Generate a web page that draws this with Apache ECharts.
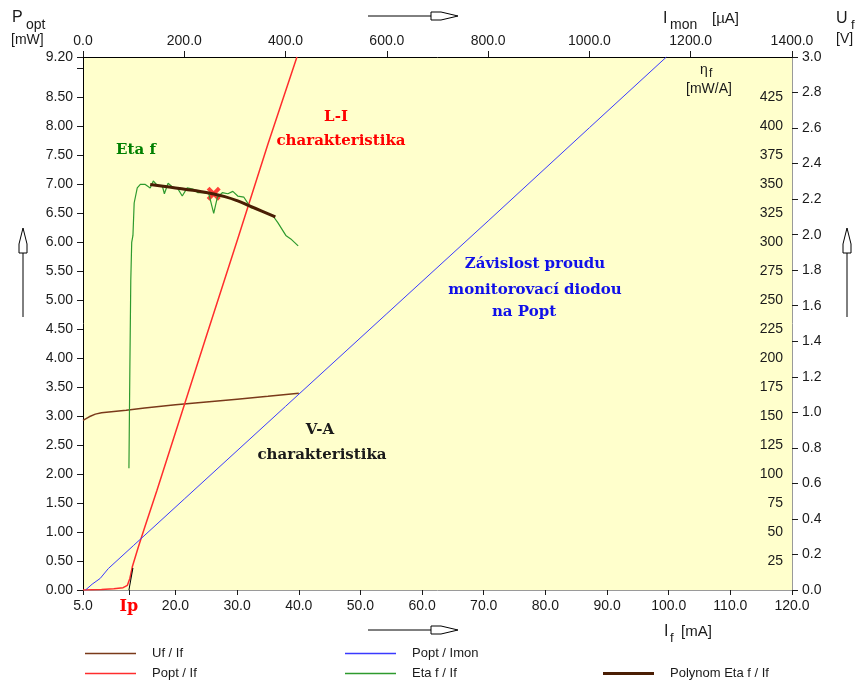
<!DOCTYPE html>
<html>
<head>
<meta charset="utf-8">
<script src="https://cdn.jsdelivr.net/npm/echarts@6.0.0/dist/echarts.min.js"></script>
<style>
html, body { margin: 0; padding: 0; background: #fff; }
#main { width: 857px; height: 681px; }
</style>
</head>
<body>
<div id="main"></div>
<script>
// Uf / If  (V vs mA)
var ifUf = [5, 6, 7, 8, 10, 12, 15, 20, 25, 30, 35, 40];
var uf   = [0.955, 0.975, 0.99, 0.998, 1.005, 1.012, 1.025, 1.042, 1.058, 1.074, 1.09, 1.107];

// Popt / If  (mW vs mA)
var ifPopt = [5, 8, 10, 11.5, 12.2, 12.6, 13.0, 14.0, 15.0, 17.0, 20.0, 25.0, 30.0, 35.0, 39.7];
var popt   = [0, 0.01, 0.02, 0.04, 0.08, 0.2, 0.4, 0.75, 1.08, 1.72, 2.72, 4.38, 6.03, 7.7, 9.2];

// Popt / Imon  (mW vs uA)
var imon    = [5, 18, 34, 50, 100, 200, 400, 600, 800, 1000, 1152];
var poptMon = [0, 0.1, 0.2, 0.37, 0.77, 1.57, 3.17, 4.77, 6.37, 7.98, 9.2];

// Eta f / If  (mW/A vs mA)
var ifEta = [12.45, 12.5, 12.6, 12.75, 12.9, 13.1, 13.3, 13.8, 14.3, 15.1, 15.9, 16.4, 17.1, 17.9, 18.2,
             18.8, 19.7, 20.3, 21.1, 21.9, 22.8, 23.6, 24.5, 25.4, 26.2, 26.8, 27.6, 28.5, 29.3, 30.1,
             31.1, 32.2, 33.3, 34.3, 35.8, 36.6, 37.9, 38.7, 39.9];
var eta   = [105, 134, 190, 267, 300, 306, 334, 347, 350, 350, 347, 353, 349, 348, 342,
             351, 347, 347, 340, 347, 346, 343, 343, 342, 325, 339, 343, 342, 344, 340,
             339, 330, 329, 326, 323, 317, 306, 303, 297];

// Polynom Eta f / If
var ifPoly  = [15.9, 18, 20, 22, 24, 26, 28, 30, 32, 34, 36.2];
var etaPoly = [350, 348.5, 347, 345.5, 344, 342, 339.5, 336, 331.5, 327, 322];

// prahovy proud Ip a tecna
var IP = 12.45;
var tangentIf = [12.45, 13.1];
var tangentP  = [0, 0.38];
var markIf = [26.2];
var markEta = [342];

// popisky os
var ifLabels   = [5, IP, 20, 30, 40, 50, 60, 70, 80, 90, 100, 110, 120];
var poptLabels = [0, 0.5, 1, 1.5, 2, 2.5, 3, 3.5, 4, 4.5, 5, 5.5, 6, 6.5, 7, 7.5, 8, 8.5, 9.2];
var poptTicks  = [0, 0.5, 1, 1.5, 2, 2.5, 3, 3.5, 4, 4.5, 5, 5.5, 6, 6.5, 7, 7.5, 8, 8.5, 9, 9.2];
var etaLabels  = [25, 50, 75, 100, 125, 150, 175, 200, 225, 250, 275, 300, 325, 350, 375, 400, 425];
var etaTicks   = [25, 50, 75, 100, 125, 150, 175, 200, 225, 250, 275, 300, 325, 350, 375, 400, 425, 450];

function zip(xs, ys) {
  var out = [];
  for (var i = 0; i < xs.length; i++) out.push([xs[i], ys[i]]);
  return out;
}

var FONT = 'Liberation Sans';
var LBL = { color: '#1a1a1a', fontFamily: FONT, fontSize: 14 };
var SERIF = 'bold 15px "DejaVu Serif"';

function txt(t, x, y, font, color, align) {
  return { type: 'text', x: x, y: y, silent: true,
    style: { text: t, font: font, fill: color || '#1a1a1a', align: align || 'left', verticalAlign: 'middle' } };
}
function hArrow(y) {
  return [
    { type: 'line', shape: { x1: 368, y1: y, x2: 431, y2: y }, style: { stroke: '#000', lineWidth: 1 } },
    { type: 'polygon', shape: { points: [[431, y - 4], [441, y - 4], [458, y], [441, y + 4], [431, y + 4]] },
      style: { fill: '#fff', stroke: '#000', lineWidth: 1 } }
  ];
}
function vArrow(x) {
  return [
    { type: 'line', shape: { x1: x, y1: 253, x2: x, y2: 317 }, style: { stroke: '#000', lineWidth: 1 } },
    { type: 'polygon', shape: { points: [[x - 4, 253], [x - 4, 244], [x, 228], [x + 4, 244], [x + 4, 253]] },
      style: { fill: '#fff', stroke: '#000', lineWidth: 1 } }
  ];
}

var graphics = [
  txt('P', 12, 18, '16px "Liberation Sans"'),
  txt('opt', 26, 25, '14px "Liberation Sans"'),
  txt('[mW]', 11, 40, '14px "Liberation Sans"'),
  txt('I', 663, 19, '16px "Liberation Sans"'),
  txt('mon', 670, 25, '14px "Liberation Sans"'),
  txt('[\u00b5A]', 712, 19, '15px "Liberation Sans"'),
  txt('U', 836, 19, '16px "Liberation Sans"'),
  txt('f', 851, 25, '13px "Liberation Sans"'),
  txt('[V]', 836, 39, '14px "Liberation Sans"'),
  txt('\u03b7', 700, 70, '14px "Liberation Sans"'),
  txt('f', 709, 74, '12px "Liberation Sans"'),
  txt('[mW/A]', 686, 89, '14px "Liberation Sans"'),
  txt('I', 664, 632, '16px "Liberation Sans"'),
  txt('f', 670, 638, '13px "Liberation Sans"'),
  txt('[mA]', 681, 632, '15px "Liberation Sans"'),
  txt('L-I', 336, 117, SERIF, '#ff0000', 'center'),
  txt('charakteristika', 341, 141, SERIF, '#ff0000', 'center'),
  txt('Eta f', 136, 150, SERIF, '#008000', 'center'),
  txt('Z\u00e1vislost proudu', 535, 264, SERIF, '#1010e8', 'center'),
  txt('monitorovac\u00ed diodou', 535, 290, SERIF, '#1010e8', 'center'),
  txt('na Popt', 524, 312, SERIF, '#1010e8', 'center'),
  txt('V-A', 320, 430, SERIF, '#1a1a1a', 'center'),
  txt('charakteristika', 322, 455, SERIF, '#1a1a1a', 'center')
].concat(hArrow(16), hArrow(630), vArrow(23), vArrow(847));

function legendAt(name, left, top, h) {
  return {
    data: [name], left: left, top: top, orient: 'horizontal', icon: 'rect',
    itemWidth: 51, itemHeight: h, selectedMode: false,
    textStyle: { color: '#1a1a1a', fontFamily: FONT, fontSize: 13, padding: [0, 0, 0, 11] }
  };
}

var myChart = echarts.init(document.getElementById('main'));
var option = {
  animation: false,
  backgroundColor: '#ffffff',
  grid: { left: 83, right: 65, top: 57, bottom: 91, show: true, backgroundColor: '#ffffcc', borderWidth: 0 },
  legend: [
    legendAt('Uf / If', 80, 642, 1.5),
    legendAt('Popt / If', 80, 662, 1.5),
    legendAt('Popt / Imon', 340, 642, 1.5),
    legendAt('Eta f / If', 340, 662, 1.5),
    legendAt('Polynom Eta f / If', 598, 662, 3)
  ],
  xAxis: [
    {
      type: 'value', position: 'bottom', min: 5, max: 120,
      axisLine: { show: true, onZero: false, lineStyle: { color: '#9a9a9a' } },
      axisTick: { show: true, length: 5, customValues: ifLabels, lineStyle: { color: '#1a1a1a' } },
      axisLabel: Object.assign({}, LBL, {
        margin: 9, customValues: ifLabels,
        formatter: function (v) { return v === IP ? '{ip|Ip}' : v.toFixed(1); },
        rich: { ip: { color: '#ff0000', fontFamily: 'DejaVu Serif', fontWeight: 'bold', fontSize: 16 } }
      }),
      splitLine: { show: false }
    },
    {
      type: 'value', position: 'top', min: 0, max: 1400, interval: 200,
      axisLine: { show: true, onZero: false, lineStyle: { color: '#000' } },
      axisTick: { show: true, length: 6, lineStyle: { color: '#1a1a1a' } },
      axisLabel: Object.assign({}, LBL, { margin: 9, formatter: function (v) { return v.toFixed(1); } }),
      splitLine: { show: false }
    }
  ],
  yAxis: [
    {
      type: 'value', position: 'left', min: 0, max: 9.2,
      axisLine: { show: true, onZero: false, lineStyle: { color: '#000' } },
      axisTick: { show: true, length: 6, customValues: poptTicks, lineStyle: { color: '#1a1a1a' } },
      axisLabel: Object.assign({}, LBL, { margin: 10, customValues: poptLabels,
        formatter: function (v) { return v.toFixed(2); } }),
      splitLine: { show: false }
    },
    {
      type: 'value', position: 'right', min: 0, max: 3, interval: 0.2,
      axisLine: { show: true, onZero: false, lineStyle: { color: '#9a9a9a' } },
      axisTick: { show: true, length: 6, lineStyle: { color: '#1a1a1a' } },
      axisLabel: Object.assign({}, LBL, { margin: 10, formatter: function (v) { return v.toFixed(1); } }),
      splitLine: { show: false }
    },
    {
      type: 'value', position: 'right', min: 0, max: 460,
      axisLine: { show: false },
      axisTick: { show: true, inside: true, length: 6, customValues: etaTicks, lineStyle: { color: '#1a1a1a' } },
      axisLabel: Object.assign({}, LBL, { inside: true, margin: 9, customValues: etaLabels }),
      splitLine: { show: false }
    }
  ],
  series: [
    {
      name: 'Uf / If', type: 'line', xAxisIndex: 0, yAxisIndex: 1, symbol: 'none',
      data: zip(ifUf, uf), lineStyle: { color: '#7a3a1a', width: 1.5 }, itemStyle: { color: '#7a3a1a' }
    },
    {
      name: 'Popt / If', type: 'line', xAxisIndex: 0, yAxisIndex: 0, symbol: 'none',
      data: zip(ifPopt, popt), lineStyle: { color: '#ff2d2d', width: 1.5 }, itemStyle: { color: '#ff2d2d' }
    },
    {
      name: 'Popt / Imon', type: 'line', xAxisIndex: 1, yAxisIndex: 0, symbol: 'none',
      data: zip(imon, poptMon), lineStyle: { color: '#3a3aff', width: 1 }, itemStyle: { color: '#3a3aff' }
    },
    {
      name: 'Eta f / If', type: 'line', xAxisIndex: 0, yAxisIndex: 2, symbol: 'none',
      data: zip(ifEta, eta), lineStyle: { color: '#2e9a2e', width: 1.2 }, itemStyle: { color: '#2e9a2e' }
    },
    {
      name: 'Polynom Eta f / If', type: 'line', xAxisIndex: 0, yAxisIndex: 2, symbol: 'none', smooth: true,
      data: zip(ifPoly, etaPoly), lineStyle: { color: '#4a1e04', width: 3 }, itemStyle: { color: '#4a1e04' }
    },
    {
      name: 'tecna', type: 'line', xAxisIndex: 0, yAxisIndex: 0, symbol: 'none',
      data: zip(tangentIf, tangentP), lineStyle: { color: '#000', width: 1 }
    },
    {
      name: 'max', type: 'scatter', xAxisIndex: 0, yAxisIndex: 2,
      symbol: 'path://M0,2 L2,0 L5,3 L8,0 L10,2 L7,5 L10,8 L8,10 L5,7 L2,10 L0,8 L3,5Z',
      symbolSize: 14, data: zip(markIf, markEta), itemStyle: { color: '#ff1010' }
    }
  ],
  graphic: graphics
};
myChart.setOption(option);
</script>
</body>
</html>
